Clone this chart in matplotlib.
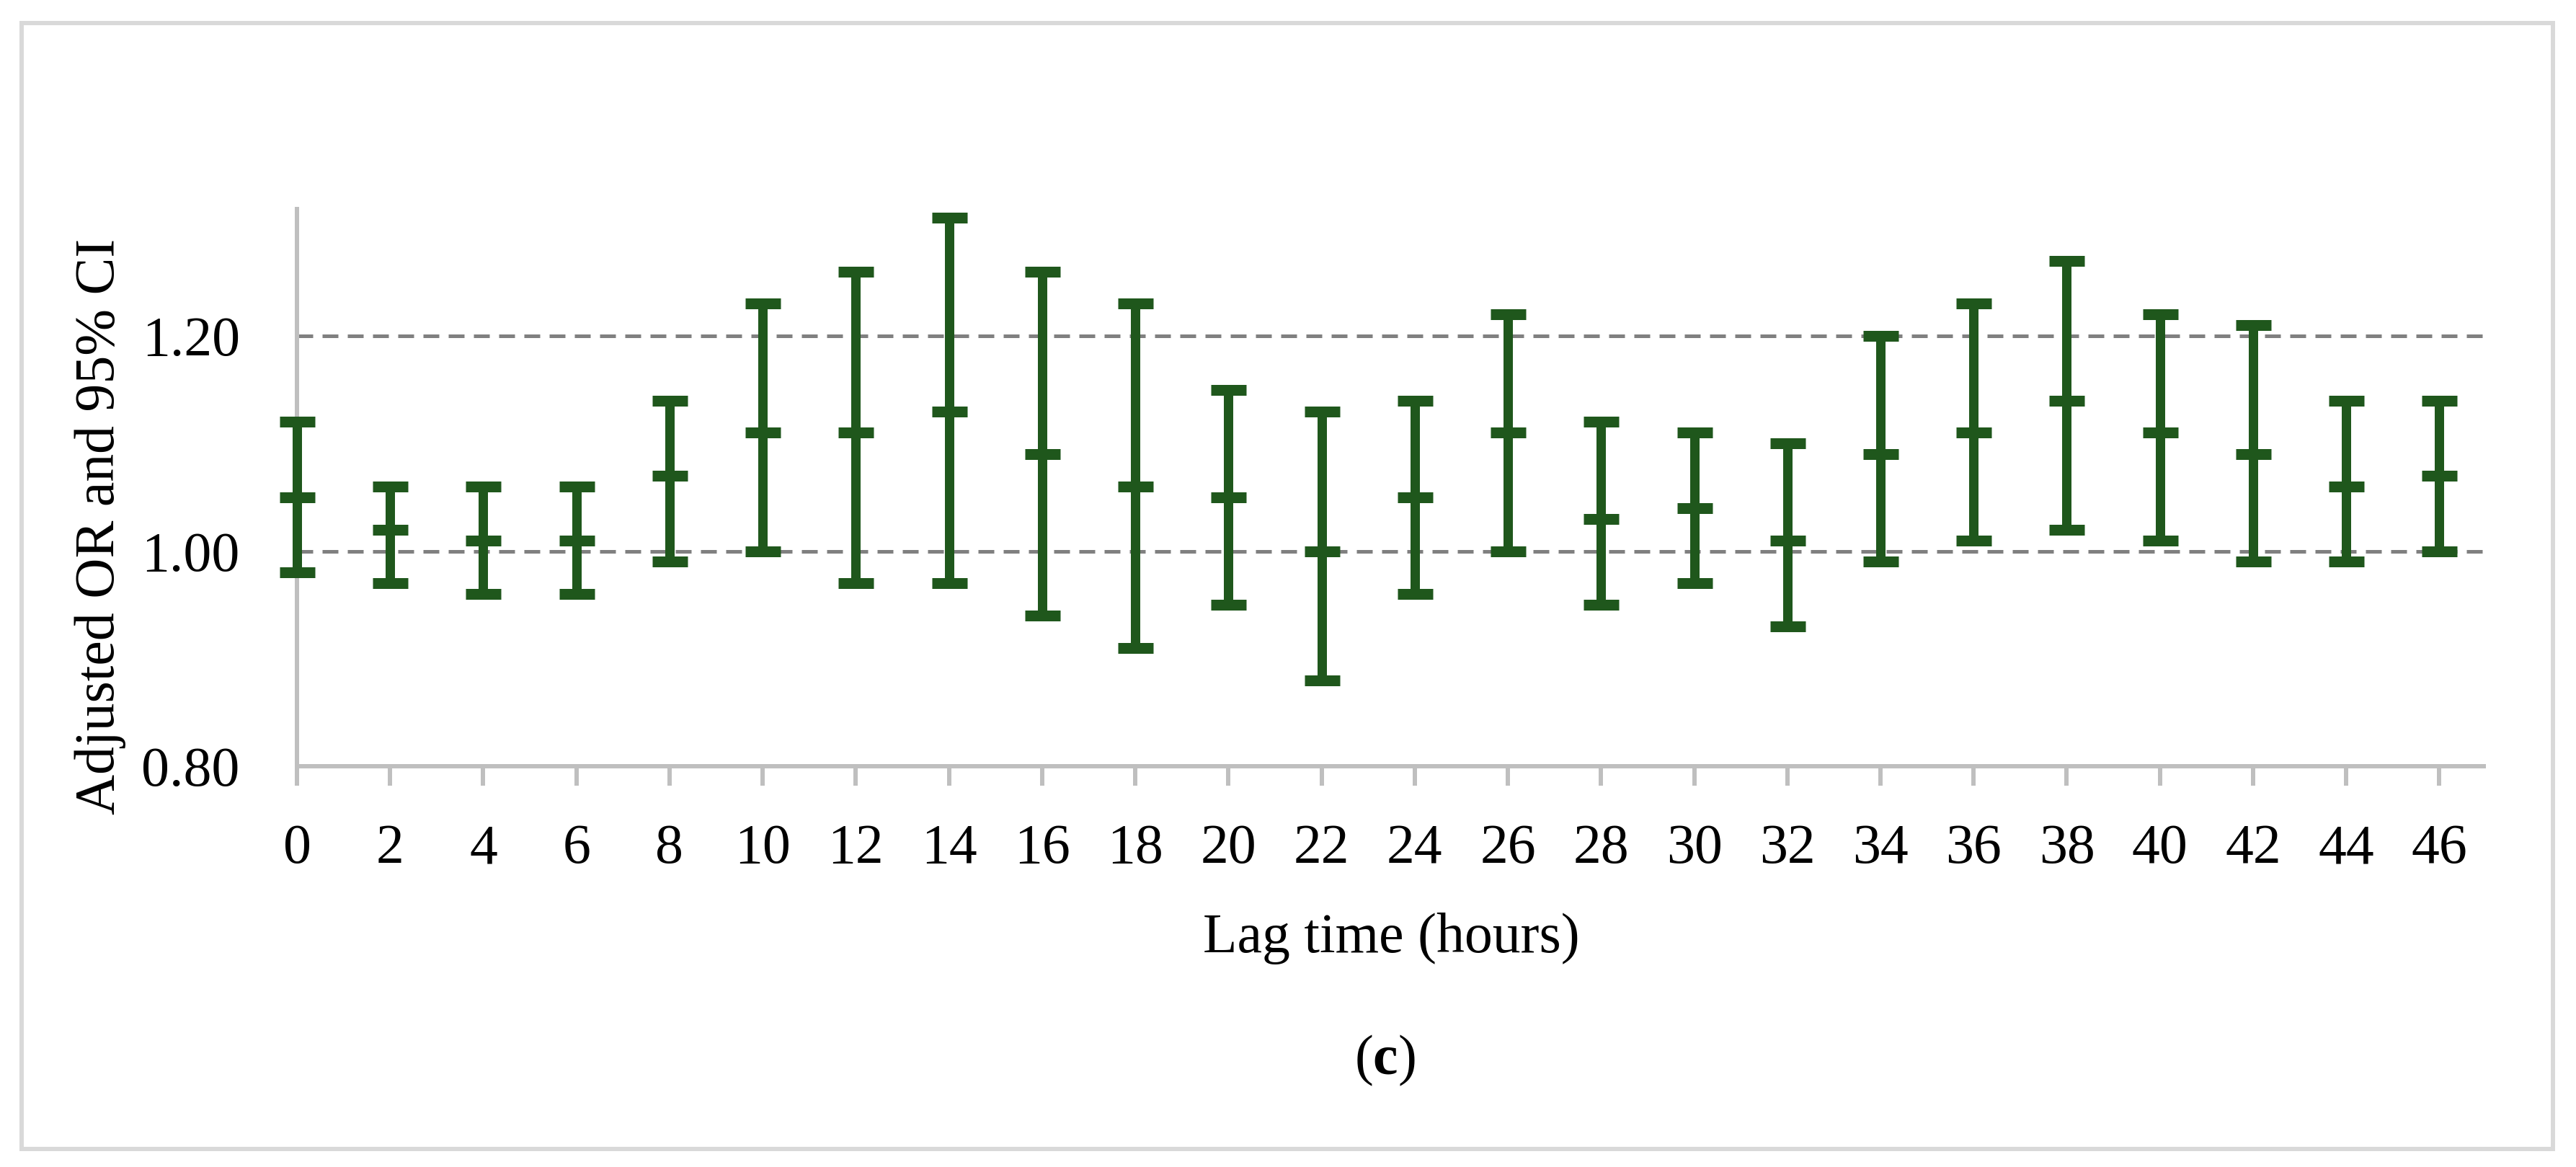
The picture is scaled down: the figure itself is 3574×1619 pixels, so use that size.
import numpy as np
import matplotlib
matplotlib.use("Agg")
import matplotlib.pyplot as plt
from matplotlib.patches import Rectangle


LAG_HOURS = [0, 2, 4, 6, 8, 10, 12, 14, 16, 18, 20, 22,
             24, 26, 28, 30, 32, 34, 36, 38, 40, 42, 44, 46]
ADJ_OR = [1.05, 1.02, 1.01, 1.01, 1.07, 1.11, 1.11, 1.13, 1.09, 1.06, 1.05, 1.00,
          1.05, 1.11, 1.03, 1.04, 1.01, 1.09, 1.11, 1.14, 1.11, 1.09, 1.06, 1.07]
CI_LOW = [0.98, 0.97, 0.96, 0.96, 0.99, 1.00, 0.97, 0.97, 0.94, 0.91, 0.95, 0.88,
          0.96, 1.00, 0.95, 0.97, 0.93, 0.99, 1.01, 1.02, 1.01, 0.99, 0.99, 1.00]
CI_HIGH = [1.12, 1.06, 1.06, 1.06, 1.14, 1.23, 1.26, 1.31, 1.26, 1.23, 1.15, 1.13,
           1.14, 1.22, 1.12, 1.11, 1.10, 1.20, 1.23, 1.27, 1.22, 1.21, 1.14, 1.14]
Y_TICKS = [0.80, 1.00, 1.20]
REF_LINES = [1.00, 1.20]

W, H, DPI = 3574, 1619, 100
PX = 72 / DPI  # pixels -> points

GREEN = "#1f571c"
AXIS_GRAY = "#bfbfbf"
FONT = "Liberation Serif"
FS = 56

plt.rcParams["font.family"] = [FONT, "DejaVu Serif"]
plt.rcParams["mathtext.fontset"] = "custom"
plt.rcParams["mathtext.rm"] = FONT
plt.rcParams["mathtext.bf"] = FONT + ":bold"


def main():
    x = np.array(LAG_HOURS, dtype=float)
    mid = np.array(ADJ_OR)
    lo = np.array(CI_LOW)
    hi = np.array(CI_HIGH)

    fig = plt.figure(figsize=(W / DPI, H / DPI), dpi=DPI)
    ax = fig.add_axes([412 / W, 1 - 1063 / H, (3449 - 412) / W, (1063 - 287) / H])

    for y in REF_LINES:
        ax.axhline(y, color="#808080", lw=5 * PX, ls=(0, (4.4, 2.6)), zorder=1)

    ax.errorbar(
        x, mid, yerr=[mid - lo, hi - mid],
        fmt="none", ecolor=GREEN, elinewidth=13 * PX,
        capsize=24.5 * PX, capthick=15 * PX, zorder=3, clip_on=False,
    )
    ax.plot(x, mid, ls="none", marker="_", ms=49 * PX, mew=15 * PX,
            color=GREEN, zorder=4, clip_on=False)

    ax.set_xlim(0, 47)
    ax.set_ylim(0.80, 1.32)
    ax.set_xticks(LAG_HOURS)
    ax.set_xticklabels([str(v) for v in LAG_HOURS])
    ax.set_yticks(Y_TICKS)
    ax.set_yticklabels([f"{v:.2f}" for v in Y_TICKS])

    for side in ["top", "right"]:
        ax.spines[side].set_visible(False)
    for side in ["left", "bottom"]:
        ax.spines[side].set_color(AXIS_GRAY)
        ax.spines[side].set_linewidth(6 * PX)
        ax.spines[side].set_capstyle("butt")

    ax.tick_params(axis="x", length=27 * PX, width=6 * PX, color=AXIS_GRAY,
                   pad=38, labelsize=FS)
    ax.tick_params(axis="y", length=0, pad=57, labelsize=FS)

    ax.set_xlabel("Lag time (hours)", fontsize=FS)
    ax.xaxis.set_label_coords(0.5, -0.262)
    ax.set_ylabel("Adjusted OR and 95% CI", fontsize=FS)
    ax.yaxis.set_label_coords(-0.078, 0.429)

    fig.text(0.5375, 1 - 1490 / H, r"($\mathbf{c}$)", fontsize=FS,
             ha="center", va="baseline")

    frame = Rectangle((30 / W, 1 - 1594 / H), (3542 - 30) / W, (1594 - 32) / H,
                      transform=fig.transFigure, fill=False,
                      edgecolor="#d9d9d9", linewidth=6 * PX)
    fig.add_artist(frame)

    fig.savefig("out.png", dpi=DPI, facecolor="white")
    plt.close(fig)


if __name__ == "__main__":
    main()
